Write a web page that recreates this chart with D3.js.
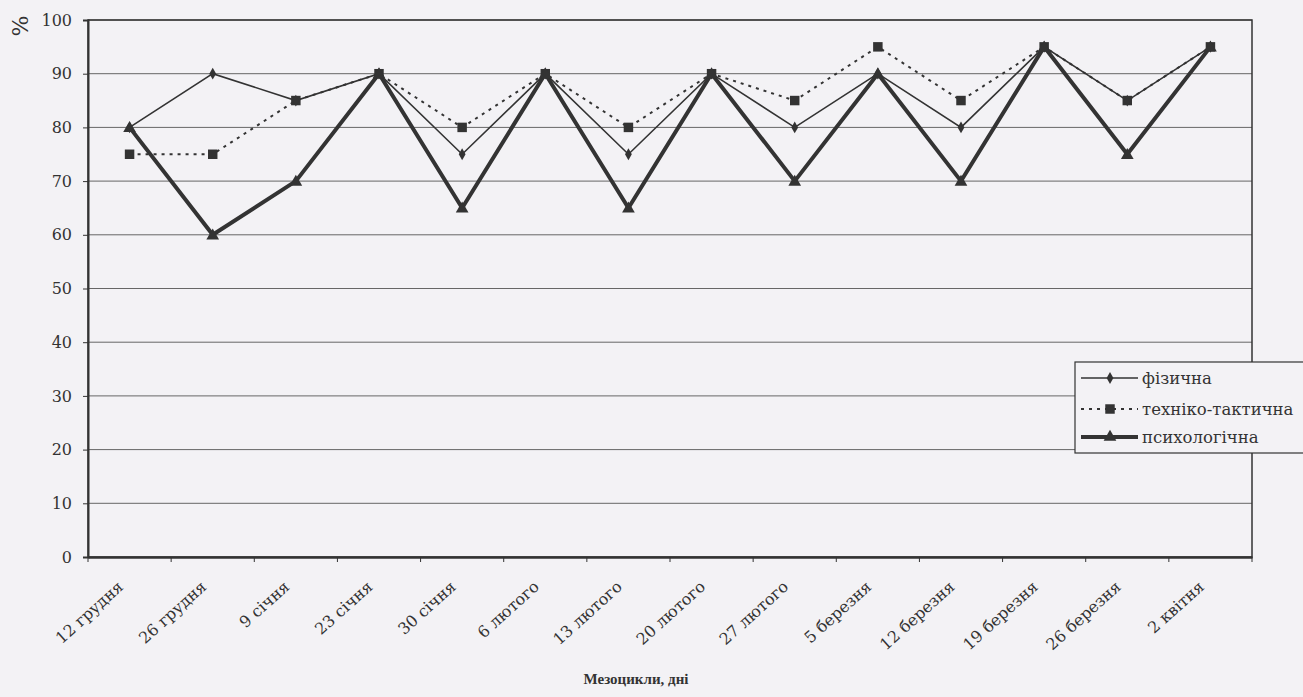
<!DOCTYPE html>
<html><head><meta charset="utf-8">
<script src="https://cdn.jsdelivr.net/npm/d3@7"></script>
<style>
html,body{margin:0;padding:0;background:#f3f2f5;}
svg{display:block;}
text{font-family:"DejaVu Serif",serif;fill:#333;}
</style></head>
<body>
<svg id="chart" width="1303" height="697"></svg>
<script>
const categories = ["12 грудня","26 грудня","9 січня","23 січня","30 січня","6 лютого","13 лютого","20 лютого","27 лютого","5 березня","12 березня","19 березня","26 березня","2 квітня"];
const physical = [80,90,85,90,75,90,75,90,80,90,80,95,85,95];
const technical = [75,75,85,90,80,90,80,90,85,95,85,95,85,95];
const psychological = [80,60,70,90,65,90,65,90,70,90,70,95,75,95];
const yTicks = [0,10,20,30,40,50,60,70,80,90,100];
const seriesNames = ["фізична","техніко-тактична","психологічна"];

const svg = d3.select("#chart");
const L = 88, R = 1252, T = 20, B = 557;
const x = d3.scaleBand().domain(categories).range([L, R]);
const y = d3.scaleLinear().domain([0,100]).range([B, T]);
const ink = "#333";

// grid
svg.append("g").selectAll("line").data(yTicks.filter(d=>d>0)).join("line")
  .attr("x1", L).attr("x2", R).attr("y1", d=>y(d)).attr("y2", d=>y(d))
  .attr("stroke", "#666").attr("stroke-width", 1);

// frame
svg.append("rect").attr("x", L).attr("y", T).attr("width", R-L).attr("height", B-T)
  .attr("fill","none").attr("stroke", ink).attr("stroke-width", 1.5);

// y axis
const yAxis = svg.append("g").attr("transform", `translate(${L},0)`)
  .call(d3.axisLeft(y).tickValues(yTicks).tickSize(5).tickPadding(11).tickFormat(d3.format("d")));
yAxis.select(".domain").attr("stroke", ink).attr("stroke-width", 2);
yAxis.selectAll(".tick line").attr("stroke", ink);
yAxis.selectAll("text").attr("font-size", 16).attr("fill", "#444")
  .style("font-family", '"DejaVu Serif", serif');

// x axis
const xAxis = svg.append("g").attr("transform", `translate(0,${B})`)
  .call(d3.axisBottom(x).tickSize(0).tickPadding(0));
xAxis.select(".domain").attr("stroke", ink).attr("stroke-width", 2.5);
// category boundary ticks
svg.append("g").selectAll("line").data(categories.concat(["_end"])).join("line")
  .attr("x1", (d,i)=>L + i*x.bandwidth()).attr("x2", (d,i)=>L + i*x.bandwidth())
  .attr("y1", B).attr("y2", B+5).attr("stroke", ink).attr("stroke-width", 1);
xAxis.selectAll(".tick text")
  .attr("font-size", 16).attr("fill", "#444")
  .style("font-family", '"DejaVu Serif", serif')
  .attr("text-anchor", "end")
  .attr("dy", "0.35em")
  .attr("transform", "translate(-9,27) rotate(-42)");

// lines
const cx = (d,i) => x(categories[i]) + x.bandwidth()/2;
const line = d3.line().x((d,i)=>cx(d,i)).y(d=>y(d));

svg.append("path").datum(technical).attr("d", line).attr("fill","none")
  .attr("stroke", ink).attr("stroke-width", 2).attr("stroke-dasharray", "3,5");
svg.append("path").datum(physical).attr("d", line).attr("fill","none")
  .attr("stroke", ink).attr("stroke-width", 1.6);
svg.append("path").datum(psychological).attr("d", line).attr("fill","none")
  .attr("stroke", ink).attr("stroke-width", 4);

// markers
const sq = d3.symbol().type(d3.symbolSquare).size(90);
const dia = d3.symbol().type(d3.symbolDiamond).size(40);
const tri = d3.symbol().type(d3.symbolTriangle).size(70);
svg.append("g").selectAll("path").data(technical).join("path")
  .attr("d", sq).attr("transform", (d,i)=>`translate(${cx(d,i)},${y(d)})`).attr("fill", ink);
svg.append("g").selectAll("path").data(physical).join("path")
  .attr("d", dia).attr("transform", (d,i)=>`translate(${cx(d,i)},${y(d)})`).attr("fill", ink);
svg.append("g").selectAll("path").data(psychological).join("path")
  .attr("d", tri).attr("transform", (d,i)=>`translate(${cx(d,i)},${y(d)+1})`).attr("fill", ink);

// legend
const lg = svg.append("g");
lg.append("rect").attr("x", 1075).attr("y", 362).attr("width", 240).attr("height", 91)
  .attr("fill", "#f3f2f5").attr("stroke", ink).attr("stroke-width", 1.2);
const rows = [
  {name: seriesNames[0], w: 1.6, dash: null, sym: dia, yy: 378},
  {name: seriesNames[1], w: 2, dash: "3,5", sym: sq, yy: 409},
  {name: seriesNames[2], w: 4, dash: null, sym: tri, yy: 437}
];
rows.forEach(r => {
  lg.append("line").attr("x1", 1081).attr("x2", 1138).attr("y1", r.yy).attr("y2", r.yy)
    .attr("stroke", ink).attr("stroke-width", r.w).attr("stroke-dasharray", r.dash);
  lg.append("path").attr("d", r.sym).attr("transform", `translate(1110,${r.yy})`).attr("fill", ink);
  lg.append("text").attr("x", 1142).attr("y", r.yy).attr("dy", "0.35em")
    .attr("font-size", 16.5).text(r.name);
});

// axis titles
svg.append("text").attr("x", 636).attr("y", 684).attr("text-anchor", "middle")
  .style("font-family", '"Liberation Serif", serif')
  .attr("font-size", 15).attr("font-weight", "bold").attr("fill", "#222").text("Мезоцикли, дні");
svg.append("text").attr("transform", "translate(28,26) rotate(-90)").attr("text-anchor", "middle")
  .attr("font-size", 22).attr("fill", "#444").text("%");
</script>
</body></html>
